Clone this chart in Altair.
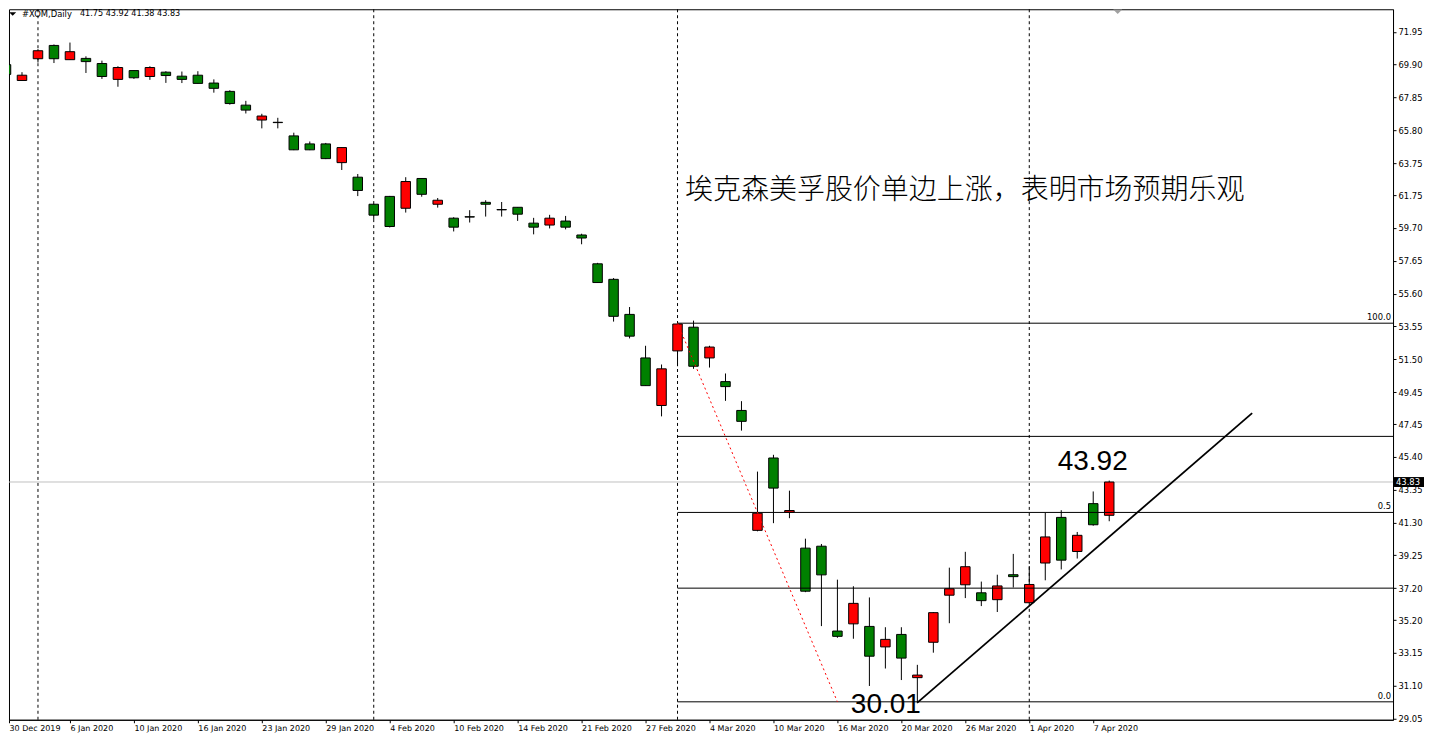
import altair as alt
import pandas as pd

# ---------------- data ----------------
dates = [
    "30 Dec 2019", "31 Dec 2019", "2 Jan 2020", "3 Jan 2020", "6 Jan 2020", "7 Jan 2020",
    "8 Jan 2020", "9 Jan 2020", "10 Jan 2020", "13 Jan 2020", "14 Jan 2020", "15 Jan 2020",
    "16 Jan 2020", "17 Jan 2020", "21 Jan 2020", "22 Jan 2020", "23 Jan 2020", "24 Jan 2020",
    "27 Jan 2020", "28 Jan 2020", "29 Jan 2020", "30 Jan 2020", "31 Jan 2020", "3 Feb 2020",
    "4 Feb 2020", "5 Feb 2020", "6 Feb 2020", "7 Feb 2020", "10 Feb 2020", "11 Feb 2020",
    "12 Feb 2020", "13 Feb 2020", "14 Feb 2020", "18 Feb 2020", "19 Feb 2020", "20 Feb 2020",
    "21 Feb 2020", "24 Feb 2020", "25 Feb 2020", "26 Feb 2020", "27 Feb 2020", "28 Feb 2020",
    "2 Mar 2020", "3 Mar 2020", "4 Mar 2020", "5 Mar 2020", "6 Mar 2020", "9 Mar 2020",
    "10 Mar 2020", "11 Mar 2020", "12 Mar 2020", "13 Mar 2020", "16 Mar 2020", "17 Mar 2020",
    "18 Mar 2020", "19 Mar 2020", "20 Mar 2020", "23 Mar 2020", "24 Mar 2020", "25 Mar 2020",
    "26 Mar 2020", "27 Mar 2020", "30 Mar 2020", "31 Mar 2020", "1 Apr 2020", "2 Apr 2020",
    "3 Apr 2020", "6 Apr 2020", "7 Apr 2020", "8 Apr 2020",
]
opens = [
    69.90, 68.91, 70.27, 71.10, 70.21, 70.29, 69.97, 68.98, 69.53, 69.16,
    69.43, 69.18, 69.24, 68.75, 68.23, 67.37, 66.44, 66.30, 65.45, 64.95,
    64.95, 63.78, 62.87, 61.18, 61.67, 60.93, 62.79, 61.18, 60.31, 60.40,
    61.30, 60.85, 60.99, 60.00, 59.88, 60.13, 59.26, 57.46, 56.49, 54.30,
    51.58, 48.61, 52.02, 53.50, 51.58, 50.10, 48.30, 40.81, 45.33, 41.94,
    39.70, 39.82, 34.52, 34.97, 34.81, 33.53, 34.31, 31.61, 33.82, 36.76,
    37.41, 36.91, 36.48, 38.04, 36.29, 38.77, 41.62, 39.49, 42.48, 41.75,
]
highs = [
    70.36, 69.43, 70.87, 71.16, 71.28, 70.42, 70.15, 69.80, 69.55, 69.80,
    69.49, 69.47, 69.49, 68.98, 68.30, 67.64, 66.83, 66.58, 65.65, 65.10,
    65.01, 64.74, 63.07, 61.20, 61.70, 62.87, 62.80, 61.57, 60.37, 60.81,
    61.43, 61.32, 61.00, 60.33, 60.52, 60.45, 59.34, 57.52, 56.57, 54.76,
    52.34, 51.17, 53.75, 53.91, 52.34, 50.61, 48.88, 44.48, 45.53, 43.29,
    40.29, 39.96, 37.73, 37.32, 36.62, 34.76, 34.76, 32.41, 35.70, 38.48,
    39.47, 37.61, 38.04, 39.34, 38.58, 41.90, 42.07, 40.71, 43.24, 43.92,
]
lows = [
    69.25, 68.88, 70.03, 70.00, 70.19, 69.38, 69.01, 68.52, 69.01, 68.95,
    68.76, 68.75, 68.72, 68.15, 67.40, 66.85, 65.92, 65.92, 64.56, 64.56,
    64.00, 63.32, 61.69, 60.25, 59.73, 60.66, 61.65, 60.97, 59.48, 60.04,
    60.41, 60.41, 60.14, 59.30, 59.67, 59.61, 58.68, 56.28, 53.85, 52.80,
    49.84, 47.93, 51.06, 50.90, 50.98, 48.90, 47.04, 40.75, 41.26, 41.57,
    36.95, 34.83, 34.10, 34.04, 31.09, 32.18, 31.46, 30.01, 33.17, 35.01,
    36.58, 36.08, 35.71, 37.24, 36.28, 37.69, 38.37, 39.05, 41.10, 41.38,
]
closes = [
    69.29, 69.24, 70.77, 70.27, 70.71, 70.09, 69.16, 69.72, 69.08, 69.72,
    69.22, 68.98, 68.73, 68.42, 67.47, 67.06, 66.69, 66.28, 64.58, 64.58,
    64.03, 64.72, 62.04, 60.50, 59.79, 62.60, 61.80, 61.43, 59.75, 60.38,
    61.18, 60.83, 60.56, 59.75, 60.31, 59.75, 59.07, 56.29, 54.18, 52.94,
    49.85, 50.90, 53.70, 51.06, 52.26, 49.79, 47.62, 41.88, 43.45, 42.05,
    37.01, 38.03, 34.19, 36.25, 32.95, 34.00, 32.83, 31.77, 35.67, 37.16,
    38.54, 36.42, 37.34, 37.92, 37.43, 40.40, 38.95, 40.50, 41.16, 43.83,
]

axis_date_labels = [
    "30 Dec 2019", "6 Jan 2020", "10 Jan 2020", "16 Jan 2020", "23 Jan 2020", "29 Jan 2020",
    "4 Feb 2020", "10 Feb 2020", "14 Feb 2020", "21 Feb 2020", "27 Feb 2020", "4 Mar 2020",
    "10 Mar 2020", "16 Mar 2020", "20 Mar 2020", "26 Mar 2020", "1 Apr 2020", "7 Apr 2020",
]
price_ticks = [29.05, 31.10, 33.15, 35.20, 37.20, 39.25, 41.30, 43.35, 45.40, 47.45, 49.45,
               51.50, 53.55, 55.60, 57.65, 59.70, 61.75, 63.75, 65.80, 67.85, 69.90, 71.95]

separator_bars = [2, 23, 42, 64]          # month separators
fib_levels = [30.10, 37.20, 41.93, 46.68, 53.75]
fib_names = ["0.0", "", "0.5", "", "100.0"]
fib_start_bar = 42
fib_diag = {"x": [42], "y": [53.75], "x2": [52], "y2": [30.10]}
trend = {"x": [57], "y": [30.05], "x2": [77.94], "y2": [48.13]}
last_price = 43.83

title_text = "埃克森美孚股价单边上涨，表明市场预期乐观"
title_pos = (42.47, 61.51)
hi_label = ("43.92", 65.78, 44.57)
lo_label = ("30.01", 52.84, 29.40)

# ---------------- layout ----------------
W, H = 1385, 711
X_MIN = 0.1875
X_MAX = X_MIN + W / 16.0
Y_MIN, Y_MAX = 28.98, 73.36

xs = alt.Scale(domain=[X_MIN, X_MAX], nice=False, zero=False, padding=0)
ys = alt.Scale(domain=[Y_MIN, Y_MAX], nice=False, zero=False, padding=0)

label_expr = "[" + ",".join("'%s'" % s for s in axis_date_labels) + "][round(datum.value/4)]"
x_axis = alt.Axis(values=[X_MIN] + [4 * k for k in range(1, len(axis_date_labels))],
                  labelExpr=label_expr, title=None, grid=False, orient="bottom",
                  labelAlign="left", labelBaseline="top", labelPadding=2, tickSize=3,
                  labelFlush=False, labelOverlap=False, labelFont="DejaVu Sans",
                  labelFontSize=8, labelColor="black", tickColor="black",
                  domainColor="black")
y_axis = alt.Axis(values=price_ticks, format=".2f", title=None, grid=False, orient="right",
                  tickSize=3, labelPadding=2, labelFont="DejaVu Sans", labelFontSize=8.4,
                  labelColor="black", tickColor="black", domainColor="black",
                  labelOverlap=False, labelFlush=False)

df = pd.DataFrame({"i": list(range(len(dates))), "date": dates, "open": opens,
                   "high": highs, "low": lows, "close": closes})
df["dir"] = ["up" if c >= o else "down" for o, c in zip(opens, closes)]

X = lambda f: alt.X(f, scale=xs, axis=x_axis)
Y = lambda f: alt.Y(f, scale=ys, axis=y_axis)

sep = alt.Chart(pd.DataFrame({"i": separator_bars})).mark_rule(
    color="black", strokeDash=[3, 3], strokeWidth=1).encode(x=X("i:Q"))

cur = alt.Chart(pd.DataFrame({"p": [last_price]})).mark_rule(
    color="#c0c0c0", strokeWidth=1).encode(y=Y("p:Q"))

wicks = alt.Chart(df).mark_rule(color="black", strokeWidth=1, clip=True).encode(
    x=X("i:Q"), y=Y("low:Q"), y2="high:Q")

bodies = alt.Chart(df).mark_bar(size=9.5, stroke="black", strokeWidth=1, clip=True).encode(
    x=X("i:Q"), y=Y("open:Q"), y2="close:Q",
    color=alt.Color("dir:N", scale=alt.Scale(domain=["up", "down"],
                                             range=["#ff0000", "#008000"]), legend=None))

fib_df = pd.DataFrame({"level": fib_levels, "name": fib_names,
                       "xs": [fib_start_bar] * len(fib_levels),
                       "xe": [X_MAX] * len(fib_levels)})
fib = alt.Chart(fib_df).mark_rule(color="black", strokeWidth=1).encode(
    x=X("xs:Q"), x2="xe:Q", y=Y("level:Q"))
fib_txt = alt.Chart(fib_df).mark_text(
    align="right", baseline="bottom", dy=-1, font="DejaVu Sans", fontSize=8.4,
    color="black").encode(x=alt.value(W - 2), y=Y("level:Q"), text="name:N")

diag = alt.Chart(pd.DataFrame(fib_diag)).mark_rule(
    color="#ff0000", strokeDash=[2, 3], strokeWidth=1).encode(
    x=X("x:Q"), y=Y("y:Q"), x2="x2:Q", y2="y2:Q")

tl = alt.Chart(pd.DataFrame(trend)).mark_rule(color="black", strokeWidth=1.8).encode(
    x=X("x:Q"), y=Y("y:Q"), x2="x2:Q", y2="y2:Q")

title = alt.Chart(pd.DataFrame({"x": [title_pos[0]], "y": [title_pos[1]],
                                "t": [title_text]})).mark_text(
    align="left", baseline="alphabetic", font="Noto Sans CJK SC", fontSize=28,
    fontWeight=300, color="black").encode(x=X("x:Q"), y=Y("y:Q"), text="t:N")

ann = alt.Chart(pd.DataFrame({"t": [hi_label[0], lo_label[0]],
                              "x": [hi_label[1], lo_label[1]],
                              "y": [hi_label[2], lo_label[2]]})).mark_text(
    align="left", baseline="alphabetic", font="Liberation Sans", fontSize=28,
    color="black").encode(x=X("x:Q"), y=Y("y:Q"), text="t:N")

hdr1 = alt.Chart(pd.DataFrame({"t": ["#XOM,Daily"]})).mark_text(
    align="left", baseline="top", font="DejaVu Sans", fontSize=8.4, color="black").encode(
    x=alt.value(13), y=alt.value(1), text="t:N")
hdr2 = alt.Chart(pd.DataFrame({"t": ["%.2f %.2f %.2f %.2f" % (opens[-1], highs[-1],
                                                              lows[-1], closes[-1])]})).mark_text(
    align="left", baseline="top", font="DejaVu Sans", fontSize=8.1, color="black").encode(
    x=alt.value(71), y=alt.value(1), text="t:N")
tri = "M-1,-0.5L1,-0.5L0,0.5Z"
hdr_tri = alt.Chart(pd.DataFrame({"k": [0]})).mark_point(
    shape=tri, filled=True, color="black", size=49, opacity=1).encode(
    x=alt.value(3.7), y=alt.value(4.7))
shift_tri = alt.Chart(pd.DataFrame({"k": [0]})).mark_point(
    shape=tri, filled=True, color="#a0a0a0", size=81, opacity=1).encode(
    x=alt.value(1109.5), y=alt.value(2.4))

box = alt.Chart(pd.DataFrame({"p1": [last_price + 0.31], "p2": [last_price - 0.31]})).mark_rect(
    color="black").encode(x=alt.value(W + 1), x2=alt.value(W + 31), y=Y("p1:Q"), y2="p2:Q")
box_txt = alt.Chart(pd.DataFrame({"p": [last_price], "t": ["%.2f" % last_price]})).mark_text(
    align="left", baseline="middle", font="DejaVu Sans", fontSize=8.4, color="white").encode(
    x=alt.value(W + 3), y=Y("p:Q"), text="t:N")

chart = alt.layer(
    sep, cur, wicks, bodies, fib, diag, tl, fib_txt, title, ann,
    hdr_tri, hdr1, hdr2, shift_tri, box, box_txt
).properties(
    width=W, height=H, padding={"left": 0, "top": 0, "right": 0, "bottom": 0},
    background="white"
).configure_view(stroke="black", strokeWidth=1)

chart.save("out.html", embed_options={"renderer": "svg", "actions": False})
